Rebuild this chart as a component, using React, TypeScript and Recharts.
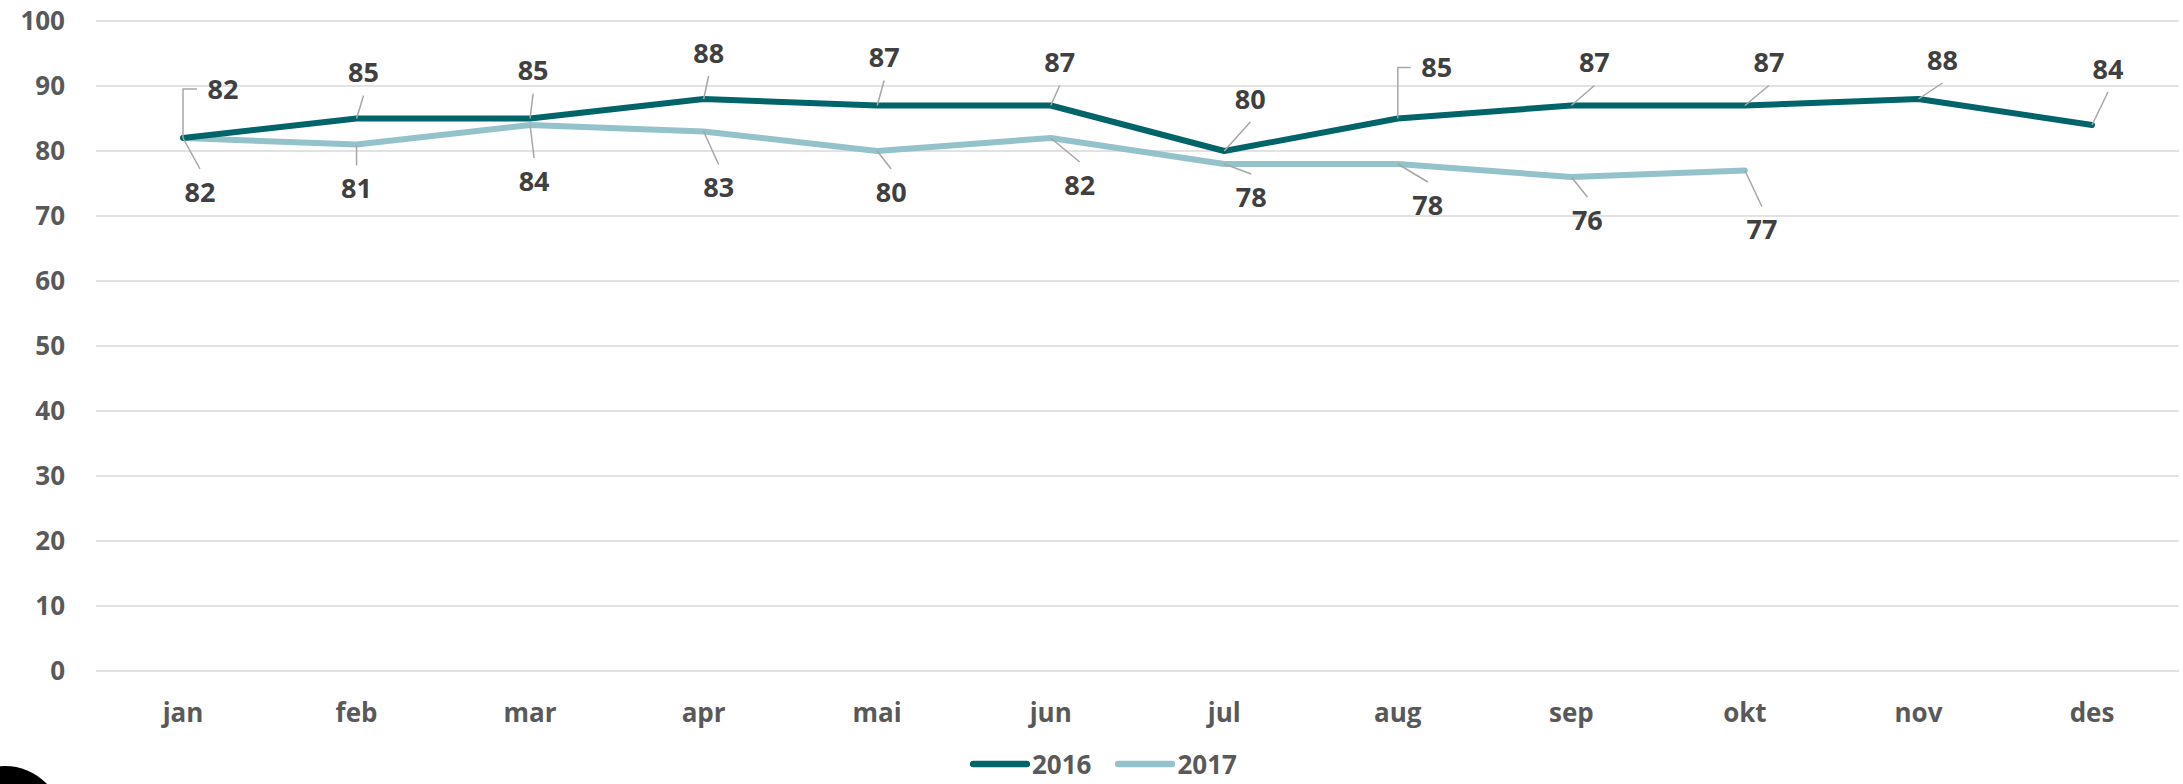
import React from 'react';
import { LineChart, Line, XAxis, YAxis, CartesianGrid, Legend, LabelList } from 'recharts';

const months = ['jan', 'feb', 'mar', 'apr', 'mai', 'jun', 'jul', 'aug', 'sep', 'okt', 'nov', 'des'];
const values2016 = [82, 85, 85, 88, 87, 87, 80, 85, 87, 87, 88, 84];
const values2017 = [82, 81, 84, 83, 80, 82, 78, 78, 76, 77];
const yTicks = [0, 10, 20, 30, 40, 50, 60, 70, 80, 90, 100];

const labelOffsets2016 = [[40, -49], [7, -46], [3, -48], [5, -46], [7, -48], [9, -43], [26, -52], [39, -51], [23, -43], [24, -43], [24, -39], [16, -56]];
const labelOffsets2017 = [[17, 54], [0, 44], [4, 56], [15, 56], [14, 41], [29, 47], [27, 33], [30, 41], [16, 43], [17, 59]];

const C2016 = '#006468';
const C2017 = '#93C2CB';
const FONT = '"Open Sans", sans-serif';

const data = months.map((m, i) => ({
  month: m,
  y2016: values2016[i] ?? null,
  y2017: values2017[i] ?? null,
}));

const makeLabel = (offsets: number[][], below: boolean) => (props: any) => {
  const { x, y, value, index } = props;
  if (value == null || x == null || y == null) return null;
  const off = offsets[index] || [0, below ? 40 : -40];
  const cx = x + off[0];
  const cy = y + off[1];
  let leader: React.ReactNode = null;
  if (off[0] > 35) {
    leader = (
      <path d={`M${x},${y} L${x},${cy} L${cx - 26},${cy}`} fill="none" stroke="#A6A6A6" strokeWidth={1.5} />
    );
  } else {
    const ex = cx;
    const ey = cy + (below ? -23 : 23);
    const d = Math.hypot(ex - x, ey - y);
    if (d > 8) {
      leader = <line x1={x} y1={y} x2={ex} y2={ey} stroke="#A6A6A6" strokeWidth={1.5} />;
    }
  }
  return (
    <g>
      {leader}
      <text x={cx} y={cy} dy="0.36em" textAnchor="middle" fill="#404040" fontFamily={FONT} fontWeight={700} fontSize={27}>
        {value}
      </text>
    </g>
  );
};

const renderLegend = () => (
  <div style={{ display: 'flex', alignItems: 'center', paddingLeft: 970, fontFamily: FONT, fontWeight: 700, fontSize: 26, color: '#595959', height: 40 }}>
    {[['2016', C2016], ['2017', C2017]].map(([name, color], i) => (
      <div key={name} style={{ display: 'flex', alignItems: 'center', marginRight: i === 0 ? 24 : 0 }}>
        <svg width={60} height={10} style={{ marginRight: 2 }}>
          <line x1={3} y1={5} x2={57} y2={5} stroke={color} strokeWidth={6.5} strokeLinecap="round" />
        </svg>
        <span>{name}</span>
      </div>
    ))}
  </div>
);

export default function App() {
  return (
    <div style={{ position: 'absolute', left: 0, top: 0, width: 2183, height: 784, background: '#fff', overflow: 'hidden' }}>
      <LineChart width={2183} height={784} data={data} margin={{ top: 21, right: 4, left: 0, bottom: 0 }}>
        <CartesianGrid vertical={false} stroke="#D9D9D9" strokeWidth={1.5} />
        <XAxis
          dataKey="month"
          axisLine={false}
          tickLine={false}
          tickSize={0}
          tickMargin={33}
          height={73}
          interval={0}
          padding={{ left: 87, right: 87 }}
          tick={{ fill: '#595959', fontFamily: FONT, fontWeight: 700, fontSize: 26 }}
        />
        <YAxis
          domain={[0, 100]}
          ticks={yTicks}
          width={96}
          axisLine={false}
          tickLine={false}
          tickSize={0}
          tickMargin={31}
          interval={0}
          tick={{ fill: '#595959', fontFamily: FONT, fontWeight: 700, fontSize: 26 }}
        />
        <Legend verticalAlign="bottom" height={40} wrapperStyle={{ left: 0, width: 2183 }} content={renderLegend} />
        <Line
          type="linear"
          dataKey="y2017"
          name="2017"
          stroke={C2017}
          strokeWidth={6}
          dot={false}
          activeDot={false}
          strokeLinejoin="round"
          strokeLinecap="round"
          isAnimationActive={false}
        >
          <LabelList dataKey="y2017" content={makeLabel(labelOffsets2017, true)} />
        </Line>
        <Line
          type="linear"
          dataKey="y2016"
          name="2016"
          stroke={C2016}
          strokeWidth={6}
          dot={false}
          activeDot={false}
          strokeLinejoin="round"
          strokeLinecap="round"
          isAnimationActive={false}
        >
          <LabelList dataKey="y2016" content={makeLabel(labelOffsets2016, false)} />
        </Line>
      </LineChart>
      <div style={{ position: 'absolute', left: 5 - 58, top: 766, width: 116, height: 116, borderRadius: '50%', background: '#000' }} />
    </div>
  );
}
